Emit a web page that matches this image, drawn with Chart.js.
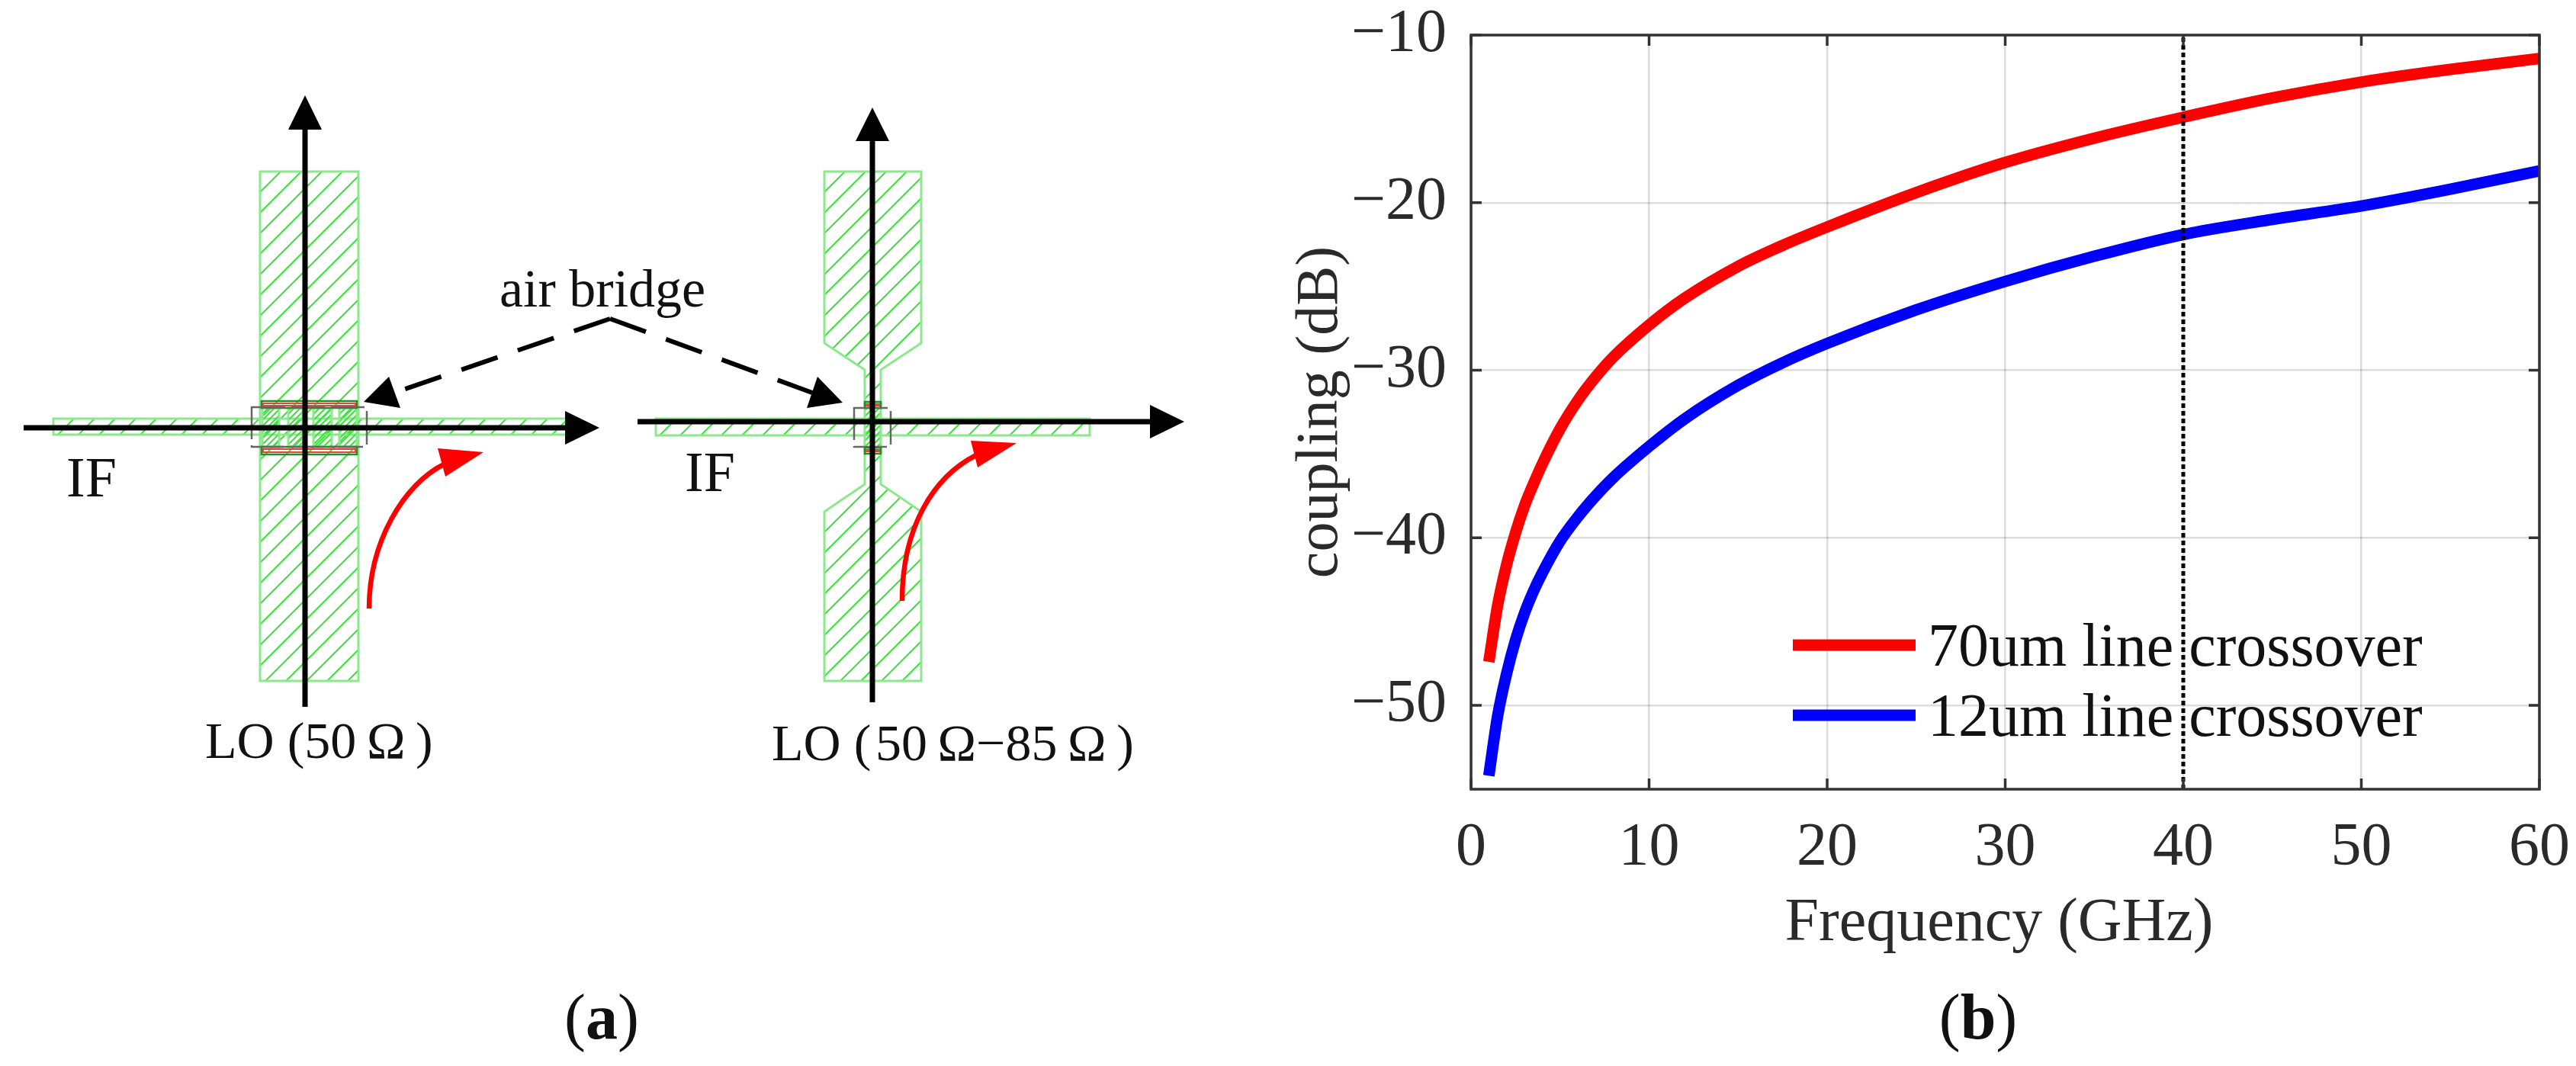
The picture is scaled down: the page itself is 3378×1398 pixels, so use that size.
<!DOCTYPE html>
<html>
<head>
<meta charset="utf-8">
<title>coupling</title>
<script src="https://cdn.jsdelivr.net/npm/chart.js@4"></script>
<style>
  html, body { margin: 0; padding: 0; background: #fff; }
  canvas { display: block; }
</style>
</head>
<body>
<canvas id="couplingChart" width="3378" height="1398"></canvas>
<script>
// values
var freqGHz  = [1, 1.5, 2, 2.5, 3, 3.5, 4, 5, 6, 7, 8, 10, 12, 15, 17.5, 20, 25, 30, 35, 40, 45, 50, 55, 60];
var line70um = [-47.4, -44, -41.6, -39.7, -38.1, -36.8, -35.6, -33.5, -31.8, -30.4, -29.2, -27.3, -25.7, -23.8, -22.55, -21.45, -19.4, -17.6, -16.15, -14.9, -13.75, -12.8, -12.05, -11.4];
var line12um = [-54.2, -50.6, -48.1, -46.1, -44.5, -43.2, -42.1, -40.2, -38.75, -37.5, -36.4, -34.55, -32.9, -30.9, -29.55, -28.4, -26.4, -24.7, -23.2, -21.9, -21, -20.2, -19.2, -18.1];
var markerFreq = [40, 40];
var markerLevel = [-55, -10];
var xTicks = [0, 10, 20, 30, 40, 50, 60];
var yTicks = [-50, -40, -30, -20, -10];
var legendLabels = ["70um line crossover", "12um line crossover"];
var serif = '"Liberation Serif", "Times New Roman", serif';
var GREEN = "#3fe03f";
var GREEN_EDGE = "#8ce88c";

function toPoints(xs, ys) {
  return xs.map(function (x, i) { return { x: x, y: ys[i] }; });
}

//-------------
//- schematics (a), drawn on the same canvas -
//-------------
function polyPath(ctx, pts) {
  ctx.beginPath();
  pts.forEach(function (p, i) {
    if (i === 0) ctx.moveTo(p[0], p[1]);
    else ctx.lineTo(p[0], p[1]);
  });
  ctx.closePath();
}

function hatched(ctx, pts, gap) {
  var xs = pts.map(function (p) { return p[0]; });
  var ys = pts.map(function (p) { return p[1]; });
  var x0 = Math.min.apply(null, xs), x1 = Math.max.apply(null, xs);
  var y0 = Math.min.apply(null, ys), y1 = Math.max.apply(null, ys);
  ctx.save();
  polyPath(ctx, pts);
  ctx.clip();
  ctx.strokeStyle = GREEN;
  ctx.lineWidth = 2;
  ctx.beginPath();
  for (var s = x0 + y0; s < x1 + y1 + gap; s += gap) {
    ctx.moveTo(s - y0, y0);
    ctx.lineTo(s - y1, y1);
  }
  ctx.stroke();
  ctx.restore();
  polyPath(ctx, pts);
  ctx.strokeStyle = GREEN_EDGE;
  ctx.lineWidth = 3;
  ctx.stroke();
}

function rectPts(x0, y0, x1, y1) {
  return [[x0, y0], [x1, y0], [x1, y1], [x0, y1]];
}

function triangle(ctx, color, pts) {
  polyPath(ctx, pts);
  ctx.fillStyle = color;
  ctx.fill();
}

function segment(ctx, x0, y0, x1, y1, width) {
  ctx.beginPath();
  ctx.moveTo(x0, y0);
  ctx.lineTo(x1, y1);
  ctx.lineWidth = width;
  ctx.strokeStyle = "#000";
  ctx.stroke();
}

function redArrow(ctx, c, head) {
  ctx.beginPath();
  ctx.moveTo(c[0], c[1]);
  ctx.bezierCurveTo(c[2], c[3], c[4], c[5], c[6], c[7]);
  ctx.strokeStyle = "#ff0000";
  ctx.lineWidth = 6.5;
  ctx.stroke();
  triangle(ctx, "#ff0000", head);
}

function bridgePads(ctx, x0, x1, y0, y1, y2, y3) {
  ctx.strokeStyle = "#1f8f2a";
  ctx.lineWidth = 2.5;
  ctx.strokeRect(x0, y0, x1 - x0, y1 - y0);
  ctx.strokeRect(x0, y2, x1 - x0, y3 - y2);
  ctx.strokeStyle = "#e0483a";
  ctx.lineWidth = 2;
  ctx.strokeRect(x0 + 2, y0 + 3, x1 - x0 - 4, y1 - y0 - 6);
  ctx.strokeRect(x0 + 2, y2 + 3, x1 - x0 - 4, y3 - y2 - 6);
}

function dashedBox(ctx, x0, y0, x1, y1) {
  ctx.save();
  ctx.strokeStyle = "#666";
  ctx.lineWidth = 2.5;
  ctx.setLineDash([44, 8]);
  ctx.strokeRect(x0, y0, x1 - x0, y1 - y0);
  ctx.restore();
}

function label(ctx, text, x, y, size) {
  ctx.font = size + "px " + serif;
  ctx.fillStyle = "#111";
  ctx.textAlign = "left";
  ctx.textBaseline = "alphabetic";
  ctx.fillText(text, x, y);
}

function caption(ctx, letter, cx, y) {
  ctx.textBaseline = "alphabetic";
  ctx.textAlign = "left";
  ctx.fillStyle = "#111";
  ctx.font = "84px " + serif;
  var paren = ctx.measureText("(").width;
  ctx.font = "bold 84px " + serif;
  var w = ctx.measureText(letter).width;
  var x = cx - (w + 2 * paren) / 2;
  ctx.font = "84px " + serif;
  ctx.fillText("(", x, y);
  ctx.fillText(")", x + paren + w, y);
  ctx.font = "bold 84px " + serif;
  ctx.fillText(letter, x + paren, y);
}

function drawLeftCell(ctx) {
  hatched(ctx, rectPts(341, 225, 470, 893), 27);
  hatched(ctx, rectPts(70, 549, 745, 570), 27);
  [[344, 366], [378, 397], [411, 435], [445, 468]].forEach(function (b) {
    hatched(ctx, rectPts(b[0], 535, b[1], 586), 8);
  });
  bridgePads(ctx, 343, 468, 526, 535, 586, 596);
  dashedBox(ctx, 330, 534, 481, 586);

  segment(ctx, 400, 165, 400, 927, 7);
  triangle(ctx, "#000", [[400, 125], [422, 170], [378, 170]]);
  segment(ctx, 31, 561, 745, 561, 7);
  triangle(ctx, "#000", [[786, 561], [741, 539], [741, 583]]);

  redArrow(ctx, [484, 798, 484, 710, 530, 635, 582, 609],
    [[634, 593], [574, 588], [584, 625]]);

  label(ctx, "IF", 87, 651, 74);
  label(ctx, "LO (50\u2009\u03a9\u2009)", 269, 994, 68);
}

function drawRightCell(ctx) {
  var top = [[1081, 225], [1208, 225], [1208, 450], [1155, 485], [1155, 530], [1134, 530], [1134, 485], [1081, 450]];
  var bottom = [[1134, 590], [1155, 590], [1155, 635], [1208, 671], [1208, 893], [1081, 893], [1081, 671], [1134, 635]];
  hatched(ctx, top, 27);
  hatched(ctx, bottom, 27);
  hatched(ctx, rectPts(860, 549, 1429, 571), 27);
  hatched(ctx, rectPts(1134, 530, 1155, 590), 8);
  bridgePads(ctx, 1134, 1155, 527, 535, 587, 595);
  dashedBox(ctx, 1120, 535, 1168, 586);

  segment(ctx, 1144, 180, 1144, 921, 7);
  triangle(ctx, "#000", [[1144, 141], [1166, 185], [1122, 185]]);
  segment(ctx, 836, 553, 1510, 553, 7);
  triangle(ctx, "#000", [[1553, 553], [1508, 531], [1508, 575]]);

  redArrow(ctx, [1183, 788, 1183, 690, 1225, 625, 1280, 597],
    [[1333, 581], [1273, 578], [1282, 613]]);

  label(ctx, "IF", 898, 644, 74);
  label(ctx, "LO (\u200a50\u2009\u03a9\u221285\u2009\u03a9\u2009)", 1012, 997, 68);
}

function drawBridgeCallout(ctx) {
  label(ctx, "air bridge", 655, 402, 70);
  ctx.save();
  ctx.setLineDash([50, 28]);
  segment(ctx, 800, 418, 517, 515, 6);
  ctx.restore();
  ctx.save();
  ctx.setLineDash([50, 28]);
  segment(ctx, 800, 418, 1065, 515, 6);
  ctx.restore();
  triangle(ctx, "#000", [[477, 527], [510, 494], [525, 535]]);
  triangle(ctx, "#000", [[1105, 528], [1072, 494], [1058, 535]]);
}

var pagePlugin = {
  id: "page",
  beforeDraw: function (chart) {
    var ctx = chart.ctx;
    ctx.save();
    ctx.fillStyle = "#fff";
    ctx.fillRect(0, 0, chart.width, chart.height);
    ctx.lineCap = "butt";
    drawLeftCell(ctx);
    drawRightCell(ctx);
    drawBridgeCallout(ctx);
    caption(ctx, "a", 789, 1362);
    caption(ctx, "b", 2594, 1362);
    ctx.restore();
  },
  afterDatasetsDraw: function (chart) {
    var ctx = chart.ctx;
    var area = chart.chartArea;
    var x = chart.scales.x, y = chart.scales.y;
    ctx.save();
    // box + inward ticks on all four sides
    ctx.strokeStyle = "#333";
    ctx.lineWidth = 3.5;
    ctx.strokeRect(area.left, area.top, area.right - area.left, area.bottom - area.top);
    ctx.beginPath();
    xTicks.forEach(function (v) {
      var px = x.getPixelForValue(v);
      ctx.moveTo(px, area.bottom);
      ctx.lineTo(px, area.bottom - 14);
      ctx.moveTo(px, area.top);
      ctx.lineTo(px, area.top + 14);
    });
    yTicks.forEach(function (v) {
      var py = y.getPixelForValue(v);
      ctx.moveTo(area.left, py);
      ctx.lineTo(area.left + 14, py);
      ctx.moveTo(area.right, py);
      ctx.lineTo(area.right - 14, py);
    });
    ctx.stroke();
    // legend, sits inside the axes
    ctx.font = "80px " + serif;
    ctx.textAlign = "left";
    ctx.textBaseline = "alphabetic";
    [1, 2].forEach(function (i, n) {
      var ds = chart.data.datasets[i];
      var ly = 846 + n * 92;
      ctx.strokeStyle = ds.borderColor;
      ctx.lineWidth = 15;
      ctx.beginPath();
      ctx.moveTo(2351, ly);
      ctx.lineTo(2512, ly);
      ctx.stroke();
      ctx.fillStyle = "#111";
      ctx.fillText(ds.label, 2528, ly + 27);
    });
    ctx.restore();
  },
};

var tickFont = { family: serif, size: 80 };

var couplingChart = new Chart(document.getElementById("couplingChart"), {
  type: "line",
  data: {
    datasets: [
      {
        label: "40 GHz",
        data: toPoints(markerFreq, markerLevel),
        borderColor: "#000",
        borderWidth: 5,
        borderDash: [6, 4],
        pointRadius: 0,
      },
      {
        label: legendLabels[0],
        data: toPoints(freqGHz, line70um),
        borderColor: "#ff0000",
        borderWidth: 15,
        cubicInterpolationMode: "monotone",
        pointRadius: 0,
      },
      {
        label: legendLabels[1],
        data: toPoints(freqGHz, line12um),
        borderColor: "#0000ff",
        borderWidth: 15,
        cubicInterpolationMode: "monotone",
        pointRadius: 0,
      },
    ],
  },
  options: {
    responsive: false,
    animation: false,
    devicePixelRatio: 1,
    layout: { padding: { left: 1686, right: 48, top: 46, bottom: 138 } },
    plugins: { legend: { display: false }, tooltip: { enabled: false } },
    scales: {
      x: {
        type: "linear",
        min: 0,
        max: 60,
        afterFit: function (scale) {
          scale.height = 225;
          scale.paddingLeft = 0;
          scale.paddingRight = 0;
        },
        afterBuildTicks: function (scale) {
          scale.ticks = xTicks.map(function (v) { return { value: v }; });
        },
        grid: { color: "rgba(38,38,38,0.16)", lineWidth: 2.5, drawTicks: false },
        border: { display: false },
        ticks: { color: "#2a2a2a", font: tickFont, padding: 30, maxRotation: 0, autoSkip: false },
        title: {
          display: true,
          text: "Frequency (GHz)\u2009", // thin space nudges it left of the axis centre, as in the figure
          color: "#2a2a2a",
          font: { family: serif, size: 80 },
          padding: 0,
        },
      },
      y: {
        type: "linear",
        min: -55,
        max: -10,
        afterFit: function (scale) {
          scale.width = 243;
          scale.paddingTop = 0;
          scale.paddingBottom = 0;
        },
        afterBuildTicks: function (scale) {
          scale.ticks = yTicks.map(function (v) { return { value: v }; });
        },
        grid: { color: "rgba(38,38,38,0.16)", lineWidth: 2.5, drawTicks: false },
        border: { display: false },
        ticks: {
          color: "#2a2a2a",
          font: tickFont,
          padding: 32,
          autoSkip: false,
          callback: function (v) { return "\u2212" + Math.abs(v); },
        },
        title: {
          display: true,
          text: "coupling (dB)",
          color: "#2a2a2a",
          font: { family: serif, size: 78 },
          padding: 0,
        },
      },
    },
  },
  plugins: [pagePlugin],
});
</script>
</body>
</html>
